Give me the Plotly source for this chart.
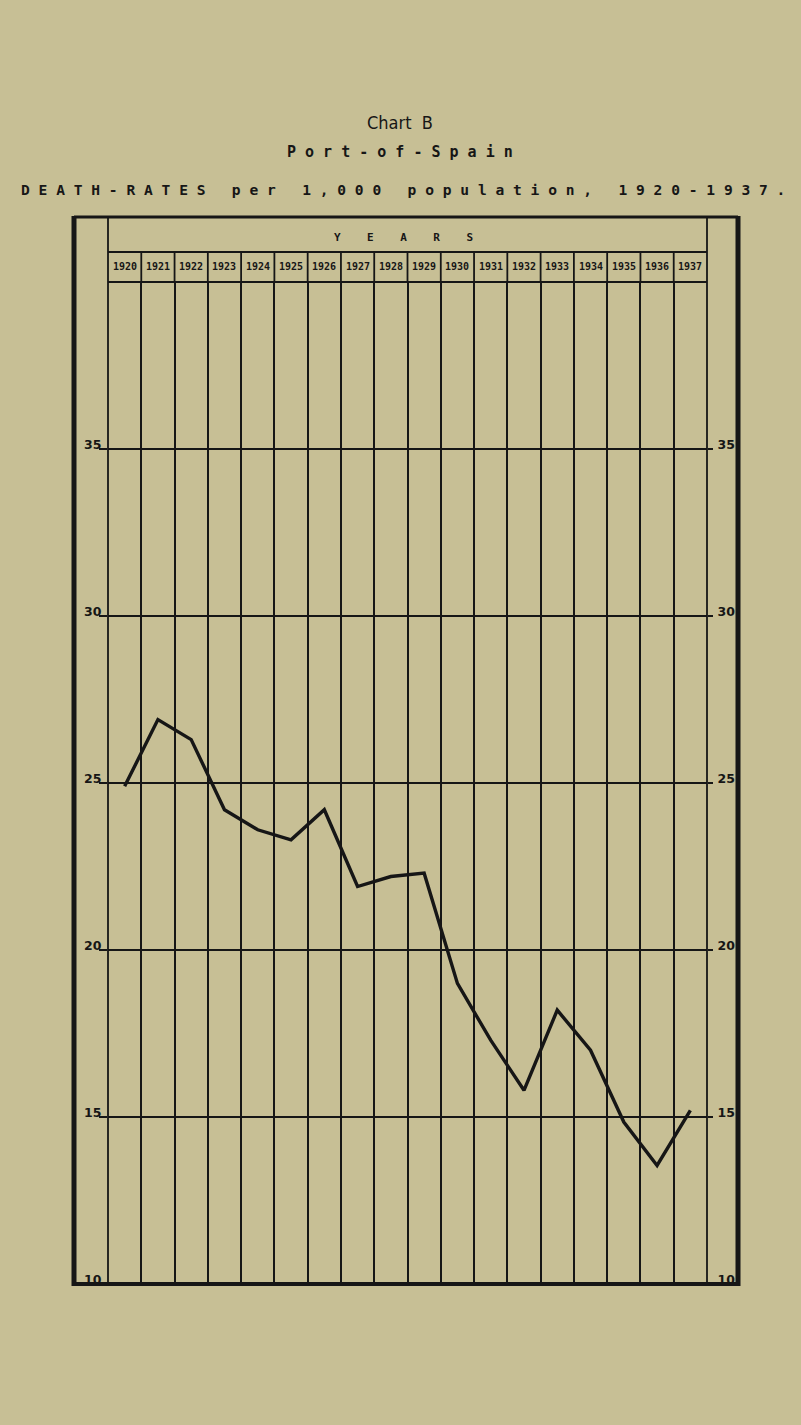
import plotly.graph_objects as go

# ---- data ----
years = list(range(1920, 1938))
year_labels = [str(y) for y in years]
death_rates = [24.9, 26.9, 26.3, 24.2, 23.6, 23.3, 24.2, 21.9, 22.2, 22.3,
               19.0, 17.3, 15.8, 18.2, 17.0, 14.85, 13.55, 15.2]
y_tick_vals = [10, 15, 20, 25, 30, 35]
y_tick_text = ["10", "15", "20", "25", "30", "35"]
y_range = [10, 40]

# ---- geometry (pixels of the 801x1425 page) ----
W, H = 801, 1425
PL, PR, PT, PB = 108, 707, 282, 1284          # plot area
HEAD_ROW = 252                                 # line between "YEARS" row and year row
FRAME_TOP = 217
FRAME_L, FRAME_R = 74, 738


def py(ypx):
    return (PB - ypx) / (PB - PT)


def px(xpx):
    return (xpx - PL) / (PR - PL)


INK = "#161616"
PAPER = "#c7bf95"
boundaries = [y - 0.5 for y in years] + [years[-1] + 0.5]

fig = go.Figure()
fig.add_trace(go.Scatter(x=years, y=death_rates, mode="lines",
                         line=dict(color=INK, width=3.4),
                         hoverinfo="skip", showlegend=False))
fig.add_trace(go.Scatter(x=years, y=death_rates, mode="lines", yaxis="y2",
                         line=dict(color="rgba(0,0,0,0)", width=0),
                         hoverinfo="skip", showlegend=False))

tickfont = dict(family="DejaVu Sans", size=12.5, color=INK, weight="bold")

fig.update_layout(
    width=W, height=H,
    margin=dict(l=PL, r=W - PR, t=PT, b=H - PB, pad=0),
    paper_bgcolor=PAPER, plot_bgcolor=PAPER,
    showlegend=False,
    xaxis=dict(range=[boundaries[0], boundaries[-1]], tickmode="array",
               tickvals=boundaries, showticklabels=False, ticks="",
               showgrid=True, gridcolor=INK, gridwidth=1.8,
               zeroline=False, showline=False, fixedrange=True),
    yaxis=dict(range=y_range, tickmode="array", tickvals=y_tick_vals,
               ticktext=y_tick_text, ticks="outside", ticklen=8,
               tickwidth=1.6, tickcolor=INK, tickfont=tickfont,
               ticklabelshift=-4, ticklabelstandoff=-5,
               showgrid=True, gridcolor=INK, gridwidth=1.6,
               zeroline=False, showline=False, fixedrange=True),
    yaxis2=dict(range=y_range, overlaying="y", side="right", tickmode="array",
                tickvals=y_tick_vals, ticktext=y_tick_text, ticks="outside",
                ticklen=5, tickwidth=1.6, tickcolor=INK, tickfont=tickfont,
                ticklabelshift=-4, ticklabelstandoff=2,
                showgrid=False, zeroline=False, showline=False,
                fixedrange=True),
)

shapes = []
# header cells for the years + column dividers
for i, b in enumerate(boundaries):
    if i in (0, len(boundaries) - 1):
        # outer edges of the grid: run up to the frame, unclipped
        xp = 0 if i == 0 else 1
        shapes.append(dict(type="line", xref="paper", yref="paper", x0=xp, x1=xp,
                           y0=0, y1=py(FRAME_TOP), line=dict(color=INK, width=1.8)))
    else:
        shapes.append(dict(type="line", xref="x", yref="paper", x0=b, x1=b,
                           y0=1, y1=py(HEAD_ROW), line=dict(color=INK, width=1.8)))
shapes.append(dict(type="line", xref="paper", yref="paper",
                   x0=0, x1=1, y0=py(HEAD_ROW), y1=py(HEAD_ROW),
                   line=dict(color=INK, width=1.8)))
shapes.append(dict(type="line", xref="paper", yref="paper",
                   x0=0, x1=1, y0=1, y1=1,
                   line=dict(color=INK, width=1.8)))
# outer frame
shapes.append(dict(type="line", xref="paper", yref="paper",
                   x0=px(FRAME_L), x1=px(FRAME_R), y0=py(FRAME_TOP), y1=py(FRAME_TOP),
                   line=dict(color=INK, width=3)))
shapes.append(dict(type="line", xref="paper", yref="paper",
                   x0=px(FRAME_L), x1=px(FRAME_R), y0=0, y1=0,
                   line=dict(color=INK, width=4)))
shapes.append(dict(type="line", xref="paper", yref="paper",
                   x0=px(FRAME_L), x1=px(FRAME_L), y0=py(PB + 2), y1=py(FRAME_TOP - 1),
                   line=dict(color=INK, width=5)))
shapes.append(dict(type="line", xref="paper", yref="paper",
                   x0=px(FRAME_R), x1=px(FRAME_R), y0=py(PB + 2), y1=py(FRAME_TOP - 1),
                   line=dict(color=INK, width=5)))
fig.update_layout(shapes=shapes)

NB = "\u00a0"
mono = "DejaVu Sans Mono"
annotations = []
for y, lab in zip(years, year_labels):
    annotations.append(dict(x=y, y=py(267), xref="x", yref="paper", text=lab,
                            showarrow=False, xanchor="center", yanchor="middle",
                            font=dict(family=mono, size=10, color=INK, weight="bold")))
annotations.append(dict(x=px(403), y=py(237), xref="paper", yref="paper",
                        text=(NB * 4).join("YEARS"), showarrow=False,
                        xanchor="center", yanchor="middle",
                        font=dict(family=mono, size=11, color=INK, weight="bold")))
annotations.append(dict(x=px(400), y=py(122), xref="paper", yref="paper",
                        text="Chart" + NB * 2 + "B", showarrow=False,
                        xanchor="center", yanchor="middle",
                        font=dict(family="Liberation Sans Narrow, DejaVu Sans Condensed, sans-serif",
                                  size=18, color=INK)))
annotations.append(dict(x=px(400), y=py(152), xref="paper", yref="paper",
                        text=NB.join("Port-of-Spain"), showarrow=False,
                        xanchor="center", yanchor="middle",
                        font=dict(family=mono, size=15, color=INK, weight="bold")))
words = ["DEATH-RATES", "per", "1,000", "population,", "1920-1937."]
title3 = (NB * 3).join(NB.join(w) for w in words)
annotations.append(dict(x=px(403), y=py(189), xref="paper", yref="paper",
                        text=title3, showarrow=False,
                        xanchor="center", yanchor="middle",
                        font=dict(family=mono, size=14.6, color=INK, weight="bold")))
fig.update_layout(annotations=annotations)

fig.write_html(
    "out.html",
    config={"displayModeBar": False},
    post_script="document.body.style.margin='0';document.body.style.overflow='hidden';",
)
